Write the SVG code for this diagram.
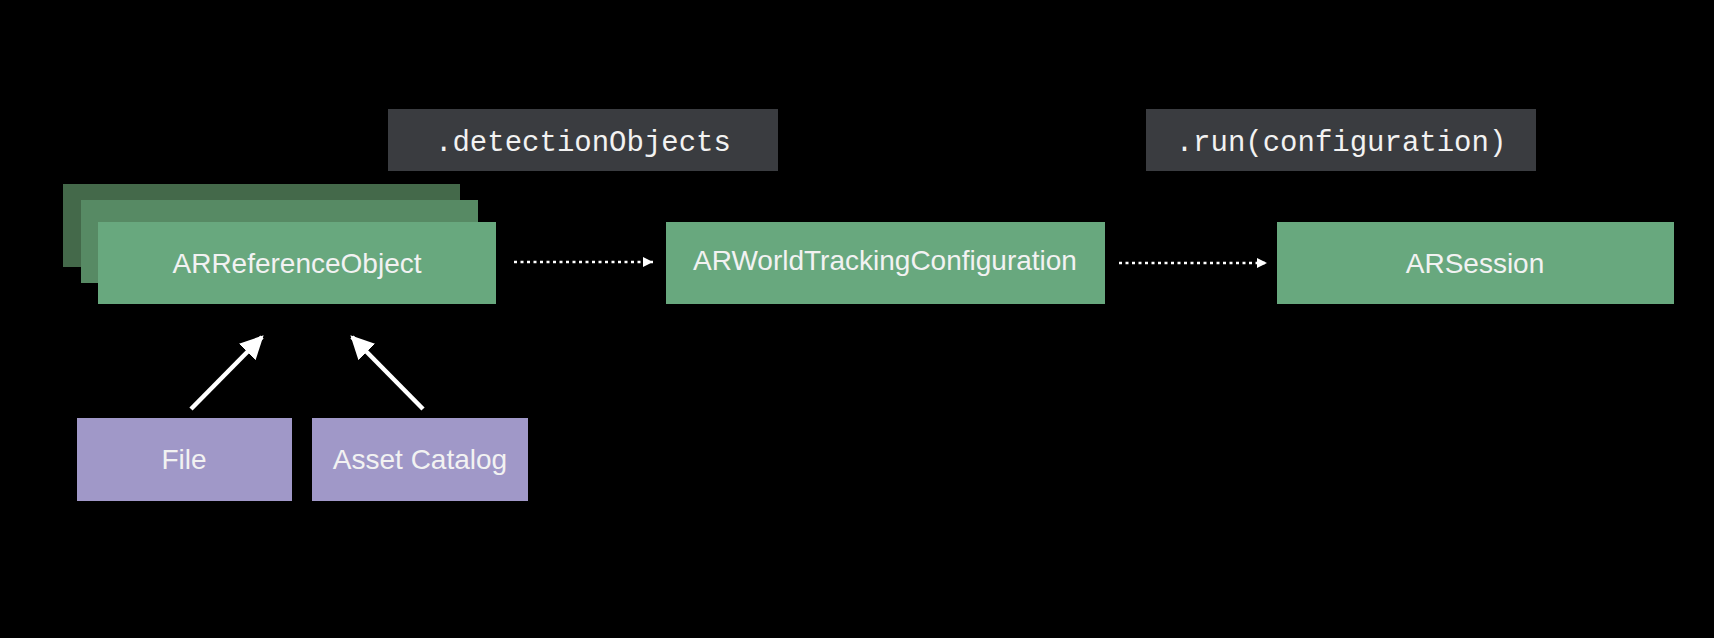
<svg xmlns="http://www.w3.org/2000/svg" width="1714" height="638" viewBox="0 0 1714 638">
<style>
.g{fill:#68a87e}
.p{fill:#a098c8}
.c{fill:#3a3c40}
.t{font-family:"Liberation Sans",Arial,sans-serif;font-size:28px;fill:#f2f2f2;text-anchor:middle}
.m{font-family:"Liberation Mono","DejaVu Sans Mono",monospace;font-size:29px;fill:#f2f2f2;text-anchor:middle}
.dot{stroke:#ffffff;stroke-width:2.5;stroke-dasharray:3 3.5;fill:none}
.sol{stroke:#ffffff;stroke-width:4.5;fill:none}
</style>
<defs>
<marker id="sm" viewBox="0 0 10 10" refX="10" refY="5" markerWidth="10" markerHeight="10" markerUnits="userSpaceOnUse" orient="auto"><path d="M0,0 L10,5 L0,10 z" fill="#fff"/></marker>
<marker id="big" viewBox="0 0 10 10" refX="9" refY="5" markerWidth="5.2" markerHeight="5.2" orient="auto"><path d="M0,0 L10,5 L0,10 z" fill="#fff"/></marker>
</defs>
<rect width="1714" height="638" fill="#000"/>
<g id="label-detection">
<rect class="c" x="388" y="109" width="390" height="62"/>
<text class="m" x="583" y="151">.detectionObjects</text>
</g>
<g id="label-run">
<rect class="c" x="1146" y="109" width="390" height="62"/>
<text class="m" x="1341" y="151">.run(configuration)</text>
</g>
<g id="node-arreferenceobject">
<rect x="63" y="184" width="397" height="83" fill="#44694a"/>
<rect x="81" y="200" width="397" height="83" fill="#578a64"/>
<rect class="g" x="98" y="222" width="398" height="82"/>
<text class="t" x="297" y="273">ARReferenceObject</text>
</g>
<g id="node-arworldtracking">
<rect class="g" x="666" y="222" width="439" height="82"/>
<text class="t" x="885" y="270">ARWorldTrackingConfiguration</text>
</g>
<g id="node-arsession">
<rect class="g" x="1277" y="222" width="397" height="82"/>
<text class="t" x="1475" y="273">ARSession</text>
</g>
<g id="node-file">
<rect class="p" x="77" y="418" width="215" height="83"/>
<text class="t" x="184" y="469">File</text>
</g>
<g id="node-asset">
<rect class="p" x="312" y="418" width="216" height="83"/>
<text class="t" x="420" y="469">Asset Catalog</text>
</g>
<g id="connectors">
<line class="dot" x1="514" y1="262" x2="653" y2="262" marker-end="url(#sm)"/>
<line class="dot" x1="1119" y1="263" x2="1267" y2="263" marker-end="url(#sm)"/>
<line class="sol" x1="191" y1="409" x2="262" y2="337" marker-end="url(#big)"/>
<line class="sol" x1="423" y1="409" x2="352" y2="337" marker-end="url(#big)"/>
</g>
</svg>
